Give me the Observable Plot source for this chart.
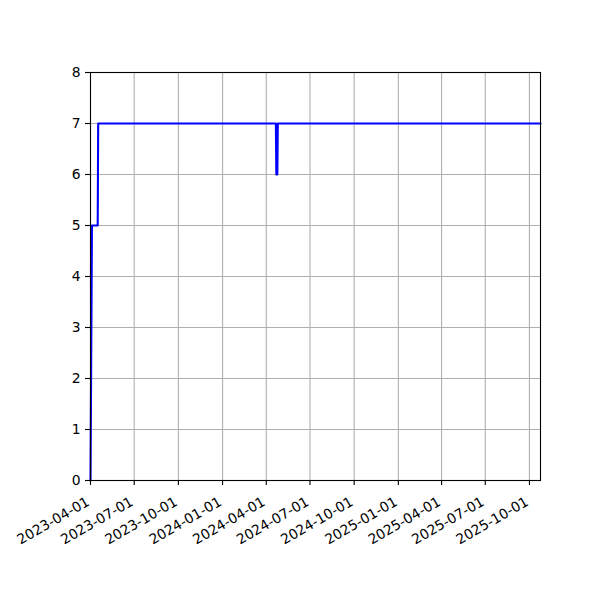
<!DOCTYPE html>
<html><head>
<meta charset="utf-8">
<script src="https://cdn.jsdelivr.net/npm/d3@7"></script>
<script src="https://cdn.jsdelivr.net/npm/@observablehq/plot@0.6"></script>
<style>body{margin:0;background:#fff}</style>
</head><body><div id="chart"></div>
<script>
const dates = ["2023-04-01","2023-04-04","2023-04-16","2023-04-17","2024-04-21","2024-04-22","2024-04-24","2024-04-25","2025-10-24"];
const values = [0,5,5,7,7,6,6,7,7];
const xTickLabels = ["2023-04-01","2023-07-01","2023-10-01","2024-01-01","2024-04-01","2024-07-01","2024-10-01","2025-01-01","2025-04-01","2025-07-01","2025-10-01"];
const yTicks = [0,1,2,3,4,5,6,7,8];
const xDomain = ["2023-04-01","2025-10-24"];

const parse = d => new Date(d + "T00:00:00Z");
const data = dates.map((d,i)=>({date:parse(d), value:values[i]}));
const xTicks = xTickLabels.map(parse);
const fmt = d3.utcFormat("%Y-%m-%d");

const chart = Plot.plot({
  width:600, height:600,
  marginLeft:90, marginRight:60, marginTop:72, marginBottom:120,
  style:{fontFamily:"DejaVu Sans", fontSize:"13.9px", color:"black", background:"white"},
  x:{type:"utc", domain:xDomain.map(parse)},
  y:{domain:[0,8]},
  marks:[
    Plot.gridX(xTicks, {stroke:"#b0b0b0", strokeOpacity:1, strokeWidth:1.1}),
    Plot.gridY(yTicks, {stroke:"#b0b0b0", strokeOpacity:1, strokeWidth:1.1}),
    Plot.line(data, {x:"date", y:"value", stroke:"#0000ff", strokeWidth:2.1}),
    Plot.frame({stroke:"black", strokeWidth:1.1}),
    Plot.axisY(yTicks, {tickSize:5, tickPadding:5, label:null, strokeWidth:1.1, tickFormat:d=>String(d), fontSize:13.9}),
    Plot.axisX(xTicks, {tickSize:5, tickFormat:null, label:null, strokeWidth:1.1, text:null}),
    Plot.text(xTicks, {x:d=>d, frameAnchor:"bottom", text:fmt, rotate:-30, textAnchor:"end", lineAnchor:"bottom", dy:24, fontSize:13.9, fill:"black"})
  ]
});
document.getElementById("chart").appendChild(chart);
</script>
</body></html>
